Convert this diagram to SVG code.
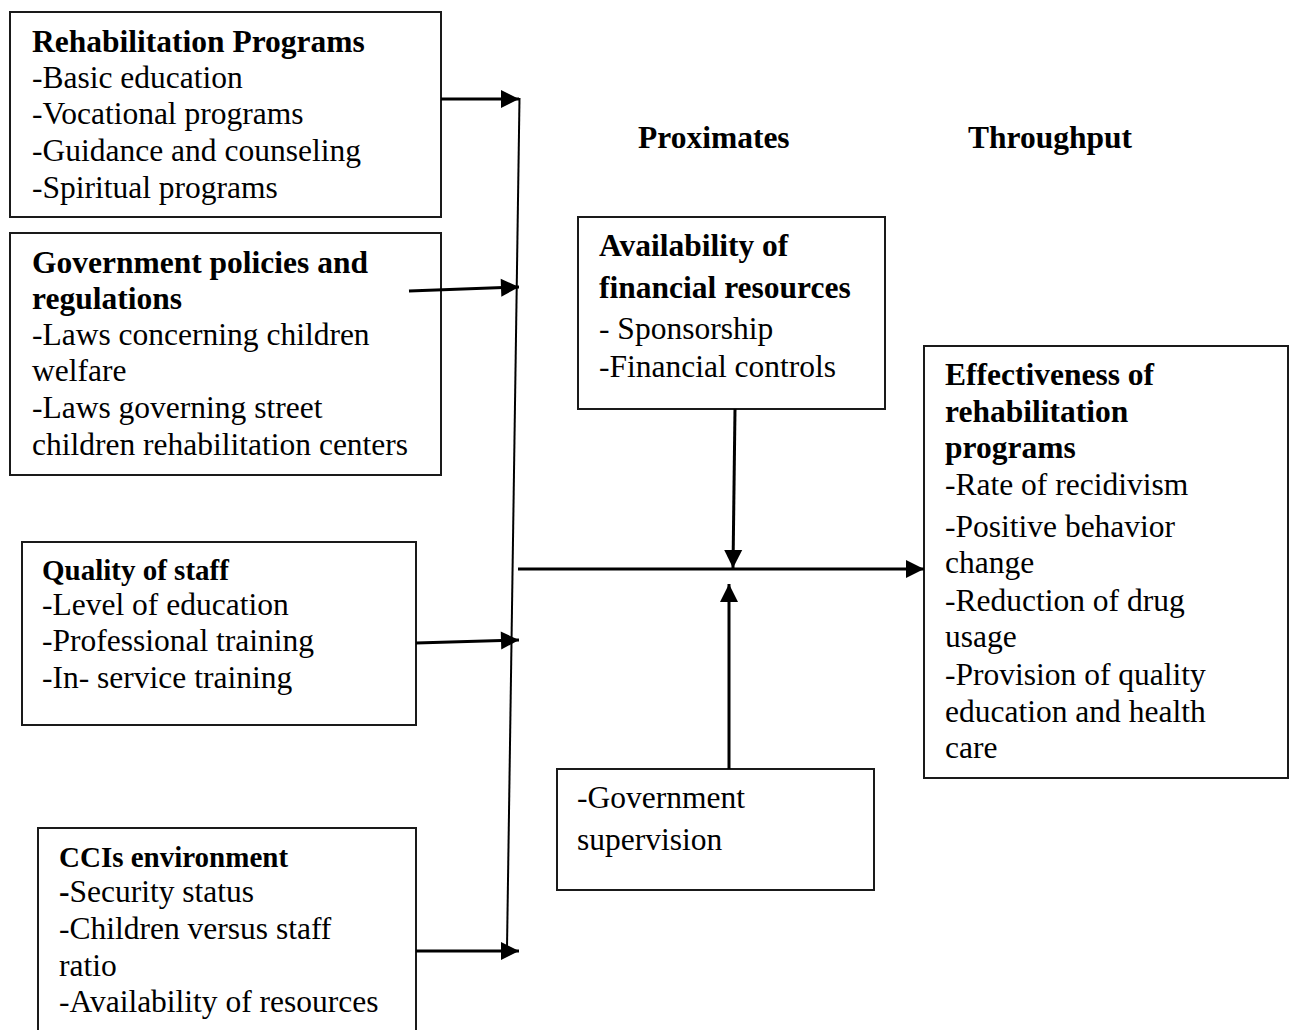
<svg xmlns="http://www.w3.org/2000/svg" width="1294" height="1030" viewBox="0 0 1294 1030">
<style>
  .box { fill: #ffffff; stroke: #1a1a1a; stroke-width: 2; }
  text { font-family: "Liberation Serif", "Times New Roman", serif; font-size: 31.5px; fill: #000; }
  .b { font-weight: bold; }
  .hs { font-size: 29px; }
  .conn { stroke: #000; stroke-width: 3; fill: none; }
  .spine { stroke: #000; stroke-width: 2; fill: none; }
</style>
<defs>
  <marker id="arr" markerUnits="userSpaceOnUse" markerWidth="20" markerHeight="20" refX="18" refY="9" orient="auto" overflow="visible">
    <path d="M0,0 L18,9 L0,18 z" fill="#000"/>
  </marker>
</defs>
<rect width="1294" height="1030" fill="#ffffff"/>

<g id="rehab-programs">
  <rect class="box" x="10" y="12" width="431" height="205"/>
  <text x="32" y="52" class="b">Rehabilitation Programs</text>
  <text x="32" y="88">-Basic education</text>
  <text x="32" y="124">-Vocational programs</text>
  <text x="32" y="161">-Guidance and counseling</text>
  <text x="32" y="198">-Spiritual programs</text>
</g>

<g id="gov-policies">
  <rect class="box" x="10" y="233" width="431" height="242"/>
  <text x="32" y="273" class="b">Government policies and</text>
  <text x="32" y="309" class="b">regulations</text>
  <text x="32" y="345">-Laws concerning children</text>
  <text x="32" y="381">welfare</text>
  <text x="32" y="418">-Laws governing street</text>
  <text x="32" y="455">children rehabilitation centers</text>
</g>

<g id="quality-staff">
  <rect class="box" x="22" y="542" width="394" height="183"/>
  <text x="42" y="580" class="b hs">Quality of staff</text>
  <text x="42" y="615">-Level of education</text>
  <text x="42" y="651">-Professional training</text>
  <text x="42" y="688">-In- service training</text>
</g>

<g id="cci-environment">
  <rect class="box" x="38" y="828" width="378" height="215"/>
  <text x="59" y="867" class="b hs">CCIs environment</text>
  <text x="59" y="902"><tspan class="b">-</tspan>Security status</text>
  <text x="59" y="939">-Children versus staff</text>
  <text x="59" y="976">ratio</text>
  <text x="59" y="1012">-Availability of resources</text>
</g>

<g id="headings">
  <text x="638" y="148" class="b">Proximates</text>
  <text x="968" y="148" class="b">Throughput</text>
</g>

<g id="financial-resources">
  <rect class="box" x="578" y="217" width="307" height="192"/>
  <text x="599" y="256" class="b">Availability of</text>
  <text x="599" y="298" class="b">financial resources</text>
  <text x="599" y="339">- Sponsorship</text>
  <text x="599" y="377">-Financial controls</text>
</g>

<g id="effectiveness">
  <rect class="box" x="924" y="346" width="364" height="432"/>
  <text x="945" y="385" class="b">Effectiveness of</text>
  <text x="945" y="422" class="b">rehabilitation</text>
  <text x="945" y="458" class="b">programs</text>
  <text x="945" y="495">-Rate of recidivism</text>
  <text x="945" y="537">-Positive behavior</text>
  <text x="945" y="573">change</text>
  <text x="945" y="611">-Reduction of drug</text>
  <text x="945" y="647">usage</text>
  <text x="945" y="685">-Provision of quality</text>
  <text x="945" y="722">education and health</text>
  <text x="945" y="758">care</text>
</g>

<g id="gov-supervision">
  <rect class="box" x="557" y="769" width="317" height="121"/>
  <text x="577" y="808">-Government</text>
  <text x="577" y="850">supervision</text>
</g>

<g id="connectors">
  <line class="spine" x1="519.5" y1="98" x2="507" y2="948"/>
  <line class="conn" x1="441" y1="99" x2="519" y2="99" marker-end="url(#arr)"/>
  <line class="conn" x1="409" y1="291" x2="519" y2="287" marker-end="url(#arr)"/>
  <line class="conn" x1="416" y1="643" x2="519" y2="640" marker-end="url(#arr)"/>
  <line class="conn" x1="416" y1="951" x2="519" y2="951" marker-end="url(#arr)"/>
  <line class="conn" x1="518" y1="569" x2="924" y2="569" marker-end="url(#arr)"/>
  <line class="conn" x1="735" y1="409" x2="733" y2="568" marker-end="url(#arr)"/>
  <line class="conn" x1="729" y1="769" x2="729" y2="584" marker-end="url(#arr)"/>
</g>
</svg>
